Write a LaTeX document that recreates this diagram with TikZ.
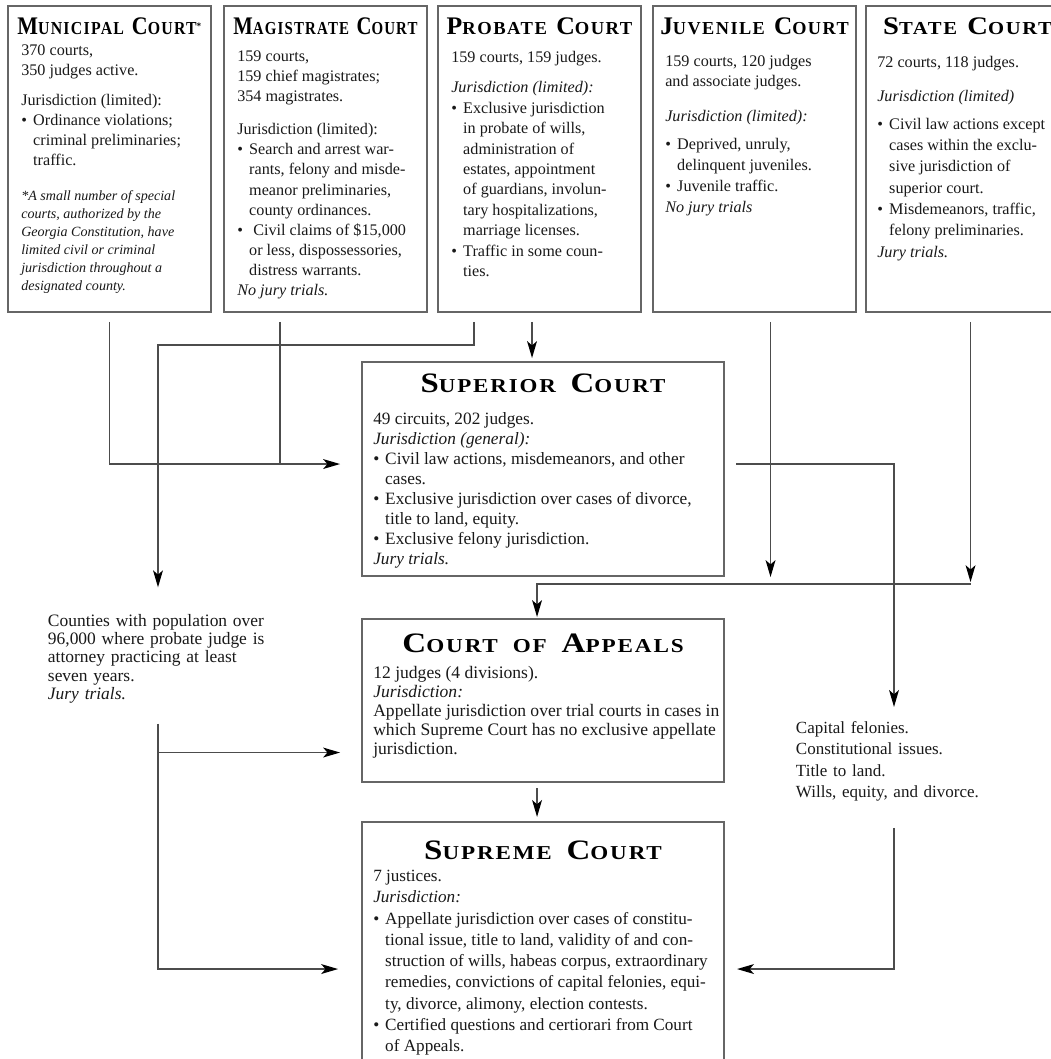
\documentclass[tikz,border=0pt]{standalone}
\usepackage{graphicx}
\usepackage{fontspec}
\setmainfont{Liberation Serif}
\newfontfamily\titlefont[LetterSpace=8]{Liberation Serif}
\usetikzlibrary{calc}
\usetikzlibrary{arrows.meta}
\tikzstyle{courtbox}=[draw=black!60, line width=1.2pt, outer sep=0pt, inner sep=0pt, anchor=north west, minimum width=5.075cm]
\tikzstyle{courttext}=[anchor=north west, inner sep=0pt, align=left, text=black!90]
\tikzstyle{link}=[draw=black!70, line width=1.1pt, -{Stealth[length=12pt,width=7pt,inset=3pt,black]}]
\tikzstyle{plainlink}=[draw=black!70, line width=1.1pt]
\newcommand{\topsc}[2]{{\fontsize{18}{18}\selectfont #1}{\fontsize{13}{13}\selectfont #2}}
\newcommand{\midsc}[2]{{\fontsize{20}{20}\selectfont #1}{\fontsize{14}{14}\selectfont #2}}
\newcommand{\courttitle}[2]{\resizebox{#1}{\height}{\titlefont\bfseries #2}} % Syntax: {width}{title}
\newcommand{\topgap}{\hspace{6.5pt}}
\newcommand{\midgap}{\hspace{9pt}}
\newcommand{\bul}{\makebox[8.5pt][l]{\textbullet}}
\newcommand{\ind}{\hspace*{8.5pt}}

\begin{document}
\begin{tikzpicture}[x=0.025cm,y=-0.025cm]
	\path[use as bounding box, clip] (0,0) rectangle (1051,1059);
	\fill[white] (0,0) rectangle (1051,1059);
	% trial courts
	\node[courtbox, minimum height=7.65cm] (muni) at (8,6) {};
	\node[courtbox, minimum height=7.65cm] (magi) at (224,6) {};
	\node[courtbox, minimum height=7.65cm] (prob) at (438,6) {};
	\node[courtbox, minimum height=7.65cm] (juve) at (653,6) {};
	\node[courtbox, minimum height=7.65cm] (state) at (866,6) {};
	\node (muniTitle) at ($(muni.north)+(0,20)$) {\courttitle{131pt}{\topsc{M}{UNICIPAL}\topgap\topsc{C}{OURT}\textsuperscript{*}}};
	\node (magiTitle) at ($(magi.north)+(0,20)$) {\courttitle{131pt}{\topsc{M}{AGISTRATE}\topgap\topsc{C}{OURT}}};
	\node (probTitle) at ($(prob.north)+(0,20)$) {\courttitle{132pt}{\topsc{P}{ROBATE}\topgap\topsc{C}{OURT}}};
	\node (juveTitle) at ($(juve.north)+(0,20)$) {\courttitle{134pt}{\topsc{J}{UVENILE}\topgap\topsc{C}{OURT}}};
	\node (stateTitle) at ($(state.north)+(0,20)$) {\courttitle{120pt}{\topsc{S}{TATE}\topgap\topsc{C}{OURT}}};

	\node[courttext, font={\fontsize{11.5}{14.3}\selectfont}] (muniText) at ($(muni.north west)+(13,38)$) {370 courts,\\ 350 judges active.\\[7pt]
		Jurisdiction (limited):\\ \bul Ordinance violations;\\ \ind criminal preliminaries;\\ \ind traffic.};
	\node[courttext, font={\fontsize{10}{12.8}\selectfont\itshape}] (muniNote) at ($(muni.north west)+(13,184)$) {*A small number of special\\ courts, authorized by the\\ Georgia Constitution, have\\
		limited civil or criminal\\ jurisdiction throughout a\\ designated county.};
	\node[courttext, font={\fontsize{11.5}{14.3}\selectfont}] (magiText) at ($(magi.north west)+(13,44.5)$) {159 courts,\\ 159 chief magistrates;\\ 354 magistrates.\\[9.2pt]
		Jurisdiction (limited):\\ \bul Search and arrest war-\\ \ind rants, felony and misde-\\ \ind meanor preliminaries,\\ \ind county ordinances.\\
		\bul\ Civil claims of \$15,000\\ \ind or less, dispossessories,\\ \ind distress warrants.\\ \textit{No jury trials.}};
	\node[courttext, font={\fontsize{11.5}{14.5}\selectfont}] (probText) at ($(prob.north west)+(13,44.5)$) {159 courts, 159 judges.\\[7.5pt]
		\textit{Jurisdiction (limited):}\\ \bul Exclusive jurisdiction\\ \ind in probate of wills,\\ \ind administration of\\ \ind estates, appointment\\
		\ind of guardians, involun-\\ \ind tary hospitalizations,\\ \ind marriage licenses.\\ \bul Traffic in some coun-\\ \ind ties.};
	\node[courttext, font={\fontsize{11.5}{14.9}\selectfont}] (juveText) at ($(juve.north west)+(12,48.5)$) {159 courts, 120 judges\\ and associate judges.\\[10pt]
		\textit{Jurisdiction (limited):}\\[5pt] \bul Deprived, unruly,\\ \ind delinquent juveniles.\\ \bul Juvenile traffic.\\ \textit{No jury trials}};
	\node[courttext, font={\fontsize{11.5}{15.2}\selectfont}] (stateText) at ($(state.north west)+(11,49.5)$) {72 courts, 118 judges.\\[9pt]
		\textit{Jurisdiction (limited)}\\[4.7pt] \bul Civil law actions except\\ \ind cases within the exclu-\\ \ind sive jurisdiction of\\ \ind superior court.\\
		\bul Misdemeanors, traffic,\\ \ind felony preliminaries.\\ \textit{Jury trials.}};

	% appellate courts
	\node[courtbox, minimum width=9.05cm, minimum height=5.35cm] (sup) at (362,362) {};
	\node[courtbox, minimum width=9.05cm, minimum height=4.075cm] (app) at (362,619) {};
	\node[courtbox, minimum width=9.05cm, minimum height=6.575cm] (supr) at (362,822) {};
	\node (supTitle) at ($(sup.north)+(0,21)$) {\courttitle{174pt}{\midsc{S}{UPERIOR}\midgap\midsc{C}{OURT}}};
	\node (appTitle) at ($(app.north)+(0,24)$) {\courttitle{200pt}{\midsc{C}{OURT}\midgap{\fontsize{14}{14}\selectfont OF}\midgap\midsc{A}{PPEALS}}};
	\node (suprTitle) at ($(supr.north)+(0,28)$) {\courttitle{169pt}{\midsc{S}{UPREME}\midgap\midsc{C}{OURT}}};
	\node[courttext, font={\fontsize{12.3}{14.2}\selectfont}] (supText) at ($(sup.north west)+(11,50)$) {49 circuits, 202 judges.\\ \textit{Jurisdiction (general):}\\
		\bul Civil law actions, misdemeanors, and other\\ \ind cases.\\ \bul Exclusive jurisdiction over cases of divorce,\\ \ind title to land, equity.\\
		\bul Exclusive felony jurisdiction.\\ \textit{Jury trials.}};
	\node[courttext, font={\fontsize{12.5}{13.5}\selectfont}] (appText) at ($(app.north west)+(11,47)$) {12 judges (4 divisions).\\ \textit{Jurisdiction:}\\
		Appellate jurisdiction over trial courts in cases in\\ which Supreme Court has no exclusive appellate\\ jurisdiction.};
	\node[courttext, font={\fontsize{12.2}{15.1}\selectfont}] (suprText) at ($(supr.north west)+(11,48)$) {7 justices.\\ \textit{Jurisdiction:}\\
		\bul Appellate jurisdiction over cases of constitu-\\ \ind tional issue, title to land, validity of and con-\\ \ind struction of wills, habeas corpus, extraordinary\\
		\ind remedies, convictions of capital felonies, equi-\\ \ind ty, divorce, alimony, election contests.\\ \bul Certified questions and certiorari from Court\\ \ind of Appeals.};

	% side notes
	\node[courttext, anchor=north, text width=5.5cm, font={\fontsize{12.4}{13}\selectfont}] (counties) at (158,614) {Counties with population over\\ 96,000 where probate judge is\\
		attorney practicing at least\\ seven years.\\ \textit{Jury trials.}};
	\node[courttext, anchor=north, text width=4.9cm, font={\fontsize{12.1}{15.2}\selectfont}] (capital) at (894,721) {Capital felonies.\\ Constitutional issues.\\ Title to land.\\ Wills, equity, and divorce.};

	% connectors
	\coordinate (supIn) at ($(sup.west)+(0,-5)$);
	\coordinate (supOut) at ($(sup.east)+(0,-5)$);
	\coordinate (magiOut) at ($(magi.south)+(-45.5,0)$);
	\coordinate (probOut) at ($(prob.south)+(-7.5,0)$);
	\coordinate (probLeft) at ($(prob.south)+(-65.5,0)$);
	\coordinate (juveOut) at ($(juve.south)+(16,0)$);
	\coordinate (stateOut) at ($(state.south)+(3,0)$);
	\coordinate (busR) at ($(state.south)+(3,272)$);
	\draw[link, shorten <=7pt, shorten >=15.6pt] (muni.south) |- (supIn);
	\draw[plainlink, shorten <=7pt] (magiOut) -- (magiOut |- supIn);
	\draw[link, shorten <=7pt, shorten >=2.8pt] (probOut) -- (probOut |- sup.north);
	\draw[link, shorten <=7pt, shorten >=19pt] (probLeft) -- ++(0,33) -| (counties.north);
	\draw[link, shorten <=7pt, shorten >=5pt] (juveOut) -- (juveOut |- busR);
	\draw[link, shorten <=7pt, shorten >=1.4pt] (stateOut) -- (busR);
	\draw[link, shorten >=1.4pt] (busR) -| ($(app.north)+(-6,0)$);
	\draw[link, shorten <=8.5pt, shorten >=10pt] (supOut) -| (capital.north);
	\draw[link, shorten <=14.4pt, shorten >=15.6pt] (counties.south) |- ($(app.west)+(0,52)$);
	\draw[link, shorten <=14.4pt, shorten >=17pt] (counties.south) |- ($(supr.west)+(0,15.5)$);
	\draw[link, shorten <=4.3pt, shorten >=3.6pt] ($(app.south)+(-6,0)$) -- ($(supr.north)+(-6,0)$);
	\draw[link, shorten <=18.8pt, shorten >=9.2pt] (capital.south) |- ($(supr.east)+(0,15.5)$);
\end{tikzpicture}
\end{document}
